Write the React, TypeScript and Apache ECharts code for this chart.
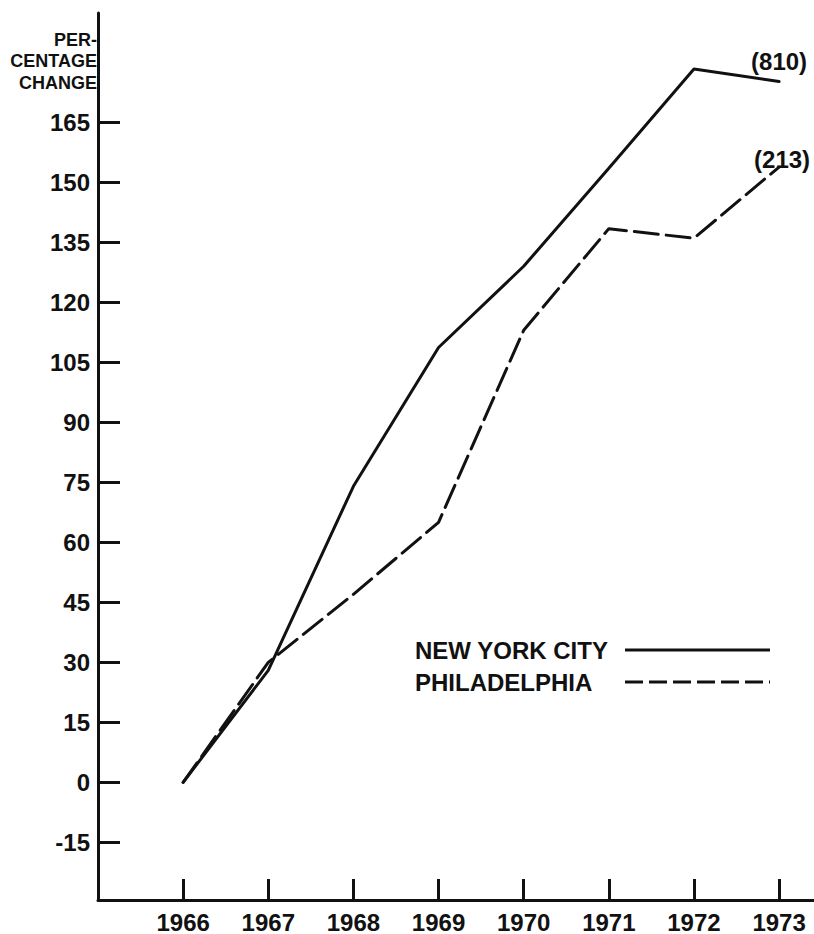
import React, { useEffect, useRef } from "react";
import * as echarts from "echarts";

const years = [1966, 1967, 1968, 1969, 1970, 1971, 1972, 1973];
const newYorkCity = [0, 28, 74, 108.7, 129, 153.5, 178.3, 175.2];
const philadelphia = [0, 30, 47, 65, 113, 138.4, 136, 153.8];
const endNotes = ["(810)", "(213)"];
const yTicks = [-15, 0, 15, 30, 45, 60, 75, 90, 105, 120, 135, 150, 165];
const seriesNames = ["NEW YORK CITY", "PHILADELPHIA"];
const yTitle = "PER-\nCENTAGE\nCHANGE";

const FONT = "'Liberation Sans', Arial, sans-serif";
const INK = "#111";

export default function App() {
  const ref = useRef<HTMLDivElement>(null);
  useEffect(() => {
    if (!ref.current) return;
    const chart = echarts.init(ref.current, null, { renderer: "svg" });
    const last = years.length - 1;
    const endMark = (vals: number[], note: string, dist: number, dx: number) => ({
      symbol: "circle",
      symbolSize: 2,
      itemStyle: { color: "rgba(0,0,0,0)" },
      label: {
        show: true,
        position: "top",
        distance: dist,
        offset: [dx, 0],
        formatter: note,
        fontFamily: FONT,
        fontWeight: "bold",
        fontSize: 24,
        color: INK,
      },
      data: [{ coord: [years[last], vals[last]] }],
    });
    chart.setOption({
      animation: false,
      backgroundColor: "#fff",
      grid: { left: 98, right: 0, top: 13, bottom: 31, containLabel: false },
      xAxis: {
        type: "value",
        min: 1965,
        max: 1973.41,
        axisLine: { show: true, onZero: false, lineStyle: { color: INK, width: 3 } },
        axisTick: {
          show: true,
          inside: true,
          length: 21,
          customValues: years,
          lineStyle: { color: INK, width: 3 },
        },
        axisLabel: {
          show: true,
          customValues: years,
          formatter: (v: number) => String(Math.round(v)),
          margin: 10,
          fontFamily: FONT,
          fontWeight: "bold",
          fontSize: 24,
          color: INK,
        },
        splitLine: { show: false },
      },
      yAxis: {
        type: "value",
        min: -29.4,
        max: 192.3,
        axisLine: { show: true, onZero: false, lineStyle: { color: INK, width: 3 } },
        axisTick: {
          show: true,
          inside: true,
          length: 22,
          customValues: yTicks,
          lineStyle: { color: INK, width: 3 },
        },
        axisLabel: {
          show: true,
          customValues: yTicks,
          formatter: (v: number) => String(Math.round(v)),
          margin: 8,
          fontFamily: FONT,
          fontWeight: "bold",
          fontSize: 24,
          color: INK,
        },
        splitLine: { show: false },
      },
      series: [
        {
          name: seriesNames[0],
          type: "line",
          symbol: "none",
          data: newYorkCity.map((v, i) => [years[i], v]),
          lineStyle: { color: INK, width: 3, cap: "round", join: "round" },
          itemStyle: { color: INK },
          markPoint: endMark(newYorkCity, endNotes[0], 7, 0),
        },
        {
          name: seriesNames[1],
          type: "line",
          symbol: "none",
          data: philadelphia.map((v, i) => [years[i], v]),
          lineStyle: { color: INK, width: 3, type: [24, 8], cap: "round", join: "round" },
          itemStyle: { color: INK },
          markPoint: endMark(philadelphia, endNotes[1], -5, 3),
        },
      ],
      graphic: [
        {
          type: "text",
          x: 97,
          y: 29,
          style: {
            text: yTitle,
            align: "right",
            verticalAlign: "top",
            fontFamily: FONT,
            fontWeight: "bold",
            fontSize: 18,
            lineHeight: 21.5,
            fill: INK,
          },
        },
        {
          type: "text",
          x: 415,
          y: 650,
          style: {
            text: seriesNames[0],
            align: "left",
            verticalAlign: "middle",
            fontFamily: FONT,
            fontWeight: "bold",
            fontSize: 24,
            fill: INK,
          },
        },
        {
          type: "text",
          x: 415,
          y: 682,
          style: {
            text: seriesNames[1],
            align: "left",
            verticalAlign: "middle",
            fontFamily: FONT,
            fontWeight: "bold",
            fontSize: 24,
            fill: INK,
          },
        },
        {
          type: "line",
          shape: { x1: 625, y1: 650, x2: 770, y2: 650 },
          style: { stroke: INK, lineWidth: 3 },
        },
        {
          type: "line",
          shape: { x1: 625, y1: 682, x2: 770, y2: 682 },
          style: { stroke: INK, lineWidth: 3, lineDash: [18, 6] },
        },
      ],
    });
    return () => chart.dispose();
  }, []);
  return (
    <div
      ref={ref}
      style={{ position: "fixed", left: 0, top: 0, width: 814, height: 934, background: "#fff" }}
    />
  );
}
